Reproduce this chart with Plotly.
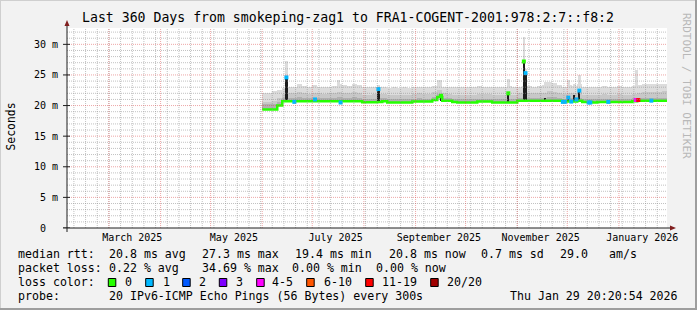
import plotly.graph_objects as go
import pandas as pd

# ---------------- data ----------------
range_start = "2025-02-03 20:20:54"
range_end = "2026-01-29 20:20:54"

bin_start = pd.date_range("2025-06-01", periods=81, freq="3D")

median_ms = [19.35, 19.35, 19.35, 20.0, 20.7, 20.7, 20.7, 20.7, 20.7, 20.7,
             20.7, 20.7, 20.7, 20.7, 20.7, 20.7, 20.7, 20.7, 20.7, 20.7,
             20.55, 20.55, 20.55, 20.6, 20.7, 20.5, 20.5, 20.5, 20.5, 20.5,
             20.65, 20.65, 20.65, 20.65, 20.9, 21.4, 20.8, 20.8, 20.6, 20.5,
             20.5, 20.5, 20.5, 20.65, 20.65, 20.65, 20.5, 20.5, 20.5, 20.5,
             20.5, 20.8, 20.8, 20.8, 20.8, 20.8, 20.8, 20.8, 20.8, 20.8,
             20.65, 20.65, 20.65, 20.8, 20.6, 20.6, 20.5, 20.6, 20.6, 20.6,
             20.6, 20.6, 20.6, 20.6, 20.7, 20.8, 20.8, 20.8, 20.8, 20.8, 20.8]

smoke_top = [22.0, 22.0, 22.3, 22.5, 22.8, 23.1, 23.1, 23.6, 23.2, 23.0,
             23.3, 23.1, 23.0, 23.1, 23.2, 23.6, 23.3, 23.2, 23.5, 23.4,
             23.0, 23.0, 23.1, 23.0, 23.0, 22.9, 23.0, 22.9, 23.0, 22.9,
             23.0, 23.1, 23.0, 23.0, 23.2, 24.2, 23.1, 23.0, 23.0, 23.1,
             23.1, 23.0, 23.1, 23.2, 23.1, 23.1, 23.0, 23.1, 23.0, 23.2,
             23.1, 23.1, 23.2, 23.2, 23.1, 23.2, 23.3, 23.8, 23.7, 23.3,
             23.1, 23.4, 23.2, 23.6, 23.1, 23.1, 23.0, 23.1, 23.2, 23.0,
             23.1, 23.2, 23.1, 23.0, 23.2, 23.4, 23.5, 23.5, 23.6, 23.5, 23.6]

smoke_mid = [20.6, 20.6, 20.7, 21.3, 21.9, 22.0, 22.1, 22.2, 22.0, 21.9,
             22.1, 22.0, 21.9, 22.0, 22.1, 22.2, 22.1, 22.0, 22.2, 22.1,
             21.8, 21.8, 21.9, 21.9, 21.9, 21.7, 21.8, 21.7, 21.8, 21.7,
             21.9, 22.0, 21.9, 21.9, 22.2, 22.6, 22.0, 21.9, 21.8, 21.7,
             21.8, 21.7, 21.8, 21.9, 21.9, 21.9, 21.7, 21.8, 21.7, 21.8,
             21.7, 22.0, 22.0, 22.1, 22.0, 22.0, 22.1, 22.3, 22.2, 22.1,
             21.9, 22.0, 22.0, 22.2, 21.8, 21.8, 21.7, 21.8, 21.9, 21.8,
             21.8, 21.9, 21.8, 21.8, 21.9, 22.1, 22.2, 22.2, 22.2, 22.2, 22.3]

smoke_dark = [20.2, 20.3, 20.3, 20.6, 21.2, 21.3, 21.3, 21.4, 21.3, 21.2,
              21.3, 21.3, 21.2, 21.3, 21.3, 21.4, 21.3, 21.3, 21.4, 21.3,
              21.1, 21.1, 21.1, 21.2, 21.2, 21.0, 21.0, 21.0, 21.0, 21.0,
              21.1, 21.2, 21.1, 21.1, 21.4, 21.9, 21.3, 21.2, 21.1, 21.0,
              21.0, 21.0, 21.0, 21.1, 21.1, 21.1, 21.0, 21.0, 21.0, 21.0,
              21.0, 21.3, 21.3, 21.3, 21.3, 21.3, 21.3, 21.4, 21.4, 21.3,
              21.1, 21.2, 21.2, 21.3, 21.1, 21.1, 21.0, 21.1, 21.1, 21.1,
              21.1, 21.1, 21.1, 21.1, 21.2, 21.3, 21.3, 21.3, 21.3, 21.3, 21.3]

# narrow smoke peaks
smoke_spike_time = ["2025-06-15 12:00", "2025-07-16 17:00", "2025-08-09 17:00",
                    "2025-09-15 08:00", "2025-10-26 15:00", "2025-11-04 23:00",
                    "2025-11-05 23:00", "2025-11-17 20:00", "2025-12-01 15:00",
                    "2025-12-05 06:00", "2025-12-08 06:00", "2026-01-11 11:00"]
smoke_spike_top = [27.2, 24.2, 23.4, 24.2, 24.3, 31.2, 26.0, 23.8, 24.2, 23.6, 25.0, 25.8]
smoke_spike_base = [20.7, 20.7, 20.6, 20.9, 20.5, 20.8, 20.8, 20.8, 20.65, 20.65, 20.8, 20.8]

# dark median spikes
med_spike_time = ["2025-06-15 12:00", "2025-07-02 15:00", "2025-08-09 17:00",
                  "2025-09-16 06:00", "2025-10-26 15:00", "2025-11-04 23:00",
                  "2025-11-05 23:00", "2025-11-17 20:00", "2025-12-01 15:00",
                  "2025-12-05 06:00", "2025-12-08 06:00"]
med_spike_top = [24.6, 21.0, 22.7, 21.6, 22.0, 27.2, 25.3, 21.2, 21.3, 21.7, 22.45]
med_spike_base = [20.7, 20.7, 20.6, 20.8, 20.5, 20.8, 20.8, 20.8, 20.65, 20.65, 20.8]

# loss-coloured median points
loss_time = ["2025-06-15 12:00", "2025-06-20 06:00", "2025-07-02 15:00", "2025-07-18 00:00",
             "2025-08-09 17:00", "2025-09-16 06:00", "2025-10-26 15:00", "2025-11-04 23:00",
             "2025-11-05 23:00", "2025-11-28 08:00", "2025-11-29 12:00", "2025-12-01 15:00",
             "2025-12-03 10:00", "2025-12-06 12:00", "2025-12-08 06:00", "2025-12-13 20:00",
             "2025-12-14 20:00", "2025-12-25 15:00", "2026-01-11 03:00", "2026-01-12 15:00",
             "2026-01-20 11:00"]
loss_value = [24.6, 20.6, 21.0, 20.5, 22.7, 21.6, 22.0, 27.2, 25.3, 20.6, 20.6, 21.3,
              20.65, 21.0, 22.45, 20.5, 20.5, 20.6, 20.9, 20.9, 20.8]
loss_class = ["1", "1", "1", "1", "1", "0", "0", "0", "1", "1", "1", "1",
              "1", "1", "1", "1", "1", "1", "4-5", "11-19", "1"]

loss_labels = ["0", "1", "2", "3", "4-5", "6-10", "11-19", "20/20"]
loss_colors = ["#26ff00", "#00b8ff", "#0059ff", "#7e00ff", "#ff00ff", "#ff5500", "#ff0000", "#a10000"]

y_tick_vals = [0, 5, 10, 15, 20, 25, 30]
y_tick_text = ["0\u00a0\u00a0", "5 m", "10 m", "15 m", "20 m", "25 m", "30 m"]
x_label_dates = ["2025-03-15", "2025-05-15", "2025-07-15", "2025-09-15", "2025-11-15", "2026-01-15"]
x_label_text = ["March 2025", "May 2025", "July 2025", "September 2025", "November 2025", "January 2026"]

title_text = "Last 360 Days from smokeping-zag1 to FRA1-COGENT-2001:978:2:7::f8:2"
legend_rows = [
    (254.3, [("median rtt:", 16), ("20.8 ms avg", 107.3), ("27.3 ms max", 200), ("19.4 ms min", 293.3),
             ("20.8 ms now", 386.7), ("0.7 ms sd", 479.3), ("29.0", 558.3), ("am/s", 607.3)]),
    (268.0, [("packet loss:", 16), ("0.22 % avg", 107.3), ("34.69 % max", 200), ("0.00 % min", 289.5),
             ("0.00 % now", 374.0)]),
    (281.7, [("loss color:", 16)]),
    (295.7, [("probe:", 16), ("20 IPv6-ICMP Echo Pings (56 Bytes) every 300s", 107.3)]),
]
loss_swatch_x = [108.3, 145.7, 182.7, 219.3, 256.7, 306.7, 365.7, 430.7]
loss_label_x = [123.3, 161, 197.3, 234, 270, 321.7, 380, 445]
stamp_text = "Thu Jan 29 20:20:54 2026"

# ---------------- geometry helpers ----------------
W, H = 697, 310
L, T, PW, PH = 67, 28, 600, 200
YMAX = 32.67
MONO = "DejaVu Sans Mono"


def px(x):
    return (x - L) / PW


def py(y):
    return (T + PH - y) / PH


DAY = 86400000
color_of = dict(zip(loss_labels, loss_colors))

fig = go.Figure()

# smoke bands
bands = [(smoke_top, "#dcdcdc"), (smoke_mid, "#c8c8c8"), (smoke_dark, "#b0b0b0")]
for i, (vals, col) in enumerate(bands):
    fig.add_trace(go.Bar(x=bin_start, base=median_ms, y=[v - m for v, m in zip(vals, median_ms)],
                         width=3 * DAY, offset=0, marker=dict(color=col, line=dict(width=0)),
                         hoverinfo="skip", showlegend=False))
    if i == 0:
        fig.add_trace(go.Bar(x=pd.to_datetime(smoke_spike_time), base=smoke_spike_base,
                             y=[t - b for t, b in zip(smoke_spike_top, smoke_spike_base)],
                             width=1.5 * DAY, marker=dict(color=col, line=dict(width=0)),
                             hoverinfo="skip", showlegend=False))

# dark spikes
fig.add_trace(go.Bar(x=pd.to_datetime(med_spike_time), base=med_spike_base,
                     y=[t - b for t, b in zip(med_spike_top, med_spike_base)],
                     width=1.3 * DAY, marker=dict(color="#1c1c1c", line=dict(width=0)),
                     hoverinfo="skip", showlegend=False))

# median line
fig.add_trace(go.Scatter(x=list(bin_start) + [pd.Timestamp(range_end)], y=median_ms + [median_ms[-1]],
                         mode="lines", line=dict(shape="hv", color=color_of["0"], width=2.5),
                         hoverinfo="skip", showlegend=False))

# loss markers
fig.add_trace(go.Scatter(x=pd.to_datetime(loss_time), y=loss_value, mode="markers",
                         marker=dict(symbol="square", size=4, color=[color_of[c] for c in loss_class],
                                     line=dict(width=0)),
                         hoverinfo="skip", showlegend=False))

shapes = []
# grid
minor_dash = "1px,1px"
weeks = pd.date_range("2025-02-08", range_end, freq="7D")
months = pd.date_range("2025-03-01", range_end, freq="MS")
for d in weeks:
    shapes.append(dict(type="line", xref="x", yref="paper", x0=d, x1=d, y0=0, y1=1, layer="above",
                       line=dict(color="rgba(143,143,143,0.55)", width=1, dash=minor_dash)))
for v in range(1, 33):
    if v % 5:
        shapes.append(dict(type="line", xref="paper", yref="y", x0=0, x1=1, y0=v, y1=v, layer="above",
                           line=dict(color="rgba(143,143,143,0.55)", width=1, dash=minor_dash)))
for d in months:
    shapes.append(dict(type="line", xref="x", yref="paper", x0=d, x1=d, y0=0, y1=1, layer="above",
                       line=dict(color="rgba(222,79,79,0.5)", width=1, dash=minor_dash)))
for v in range(5, 33, 5):
    shapes.append(dict(type="line", xref="paper", yref="y", x0=0, x1=1, y0=v, y1=v, layer="above",
                       line=dict(color="rgba(222,79,79,0.5)", width=1, dash=minor_dash)))

# axes
axis_col = "#1f1f1f"
arrow_col = "#801f1f"
shapes.append(dict(type="line", xref="paper", yref="paper", x0=px(63), x1=px(671), y0=0, y1=0,
                   line=dict(color=axis_col, width=1), layer="above"))
shapes.append(dict(type="line", xref="paper", yref="paper", x0=0, x1=0, y0=py(232), y1=py(24),
                   line=dict(color=axis_col, width=1), layer="above"))
shapes.append(dict(type="path", xref="paper", yref="paper",
                   path=f"M {px(670)},{py(225.5)} L {px(676)},{py(228)} L {px(670)},{py(230.5)} Z",
                   fillcolor=arrow_col, line=dict(width=0), layer="above"))
shapes.append(dict(type="path", xref="paper", yref="paper",
                   path=f"M {px(64.5)},{py(26)} L {px(67)},{py(20)} L {px(69.5)},{py(26)} Z",
                   fillcolor=arrow_col, line=dict(width=0), layer="above"))
for v in y_tick_vals:
    shapes.append(dict(type="line", xref="paper", yref="y", x0=px(63), x1=px(70), y0=v, y1=v,
                       line=dict(color=axis_col, width=1), layer="above"))

# legend swatches
for sx, col in zip(loss_swatch_x, loss_colors):
    shapes.append(dict(type="rect", xref="paper", yref="paper", x0=px(sx), x1=px(sx + 7.5),
                       y0=py(286.5), y1=py(278.5), fillcolor=col, line=dict(color="black", width=1)))

# frame
shapes.append(dict(type="line", xref="paper", yref="paper", x0=px(0), x1=px(W), y0=py(0.5), y1=py(0.5),
                   line=dict(color="#cfcfcf", width=1)))
shapes.append(dict(type="line", xref="paper", yref="paper", x0=px(0.5), x1=px(0.5), y0=py(0), y1=py(H),
                   line=dict(color="#cfcfcf", width=1)))
shapes.append(dict(type="line", xref="paper", yref="paper", x0=px(0), x1=px(W), y0=py(H - 1), y1=py(H - 1),
                   line=dict(color="#9e9e9e", width=2)))
shapes.append(dict(type="line", xref="paper", yref="paper", x0=px(W - 1), x1=px(W - 1), y0=py(0), y1=py(H),
                   line=dict(color="#9e9e9e", width=2)))

annotations = []
annotations.append(dict(text=title_text, xref="paper", yref="paper", x=px(347.5), y=py(18),
                        xanchor="center", yanchor="middle", showarrow=False,
                        font=dict(family=MONO, size=13.2, color="black")))
annotations.append(dict(text="Seconds", xref="paper", yref="paper", x=px(10.5), y=py(127),
                        xanchor="center", yanchor="middle", textangle=-90, showarrow=False,
                        font=dict(family=MONO, size=11.4, color="black")))
annotations.append(dict(text="RRDTOOL / TOBI OETIKER", xref="paper", yref="paper", x=px(687), y=py(86),
                        xanchor="center", yanchor="middle", textangle=90, showarrow=False,
                        font=dict(family=MONO, size=11, color="#b8b8b8")))
for yrow, items in legend_rows:
    for txt, xpos in items:
        annotations.append(dict(text=txt, xref="paper", yref="paper", x=px(xpos), y=py(yrow),
                                xanchor="left", yanchor="middle", showarrow=False,
                                font=dict(family=MONO, size=11.6, color="black")))
for lbl, xpos in zip(loss_labels, loss_label_x):
    annotations.append(dict(text=lbl, xref="paper", yref="paper", x=px(xpos), y=py(281.7),
                            xanchor="left", yanchor="middle", showarrow=False,
                            font=dict(family=MONO, size=11.6, color="black")))
annotations.append(dict(text=stamp_text, xref="paper", yref="paper", x=px(680), y=py(295.7),
                        xanchor="right", yanchor="middle", showarrow=False,
                        font=dict(family=MONO, size=11.6, color="black")))

fig.update_layout(
    width=W, height=H, margin=dict(l=L, r=W - L - PW, t=T, b=H - T - PH, pad=0),
    paper_bgcolor="#f2f2f2", plot_bgcolor="#ffffff",
    barmode="overlay", bargap=0, showlegend=False,
    shapes=shapes, annotations=annotations,
    xaxis=dict(type="date", range=[range_start, range_end], showgrid=False, zeroline=False,
               showline=False, ticks="", tickvals=x_label_dates, ticktext=x_label_text,
               tickfont=dict(family=MONO, size=10, color="black"), ticklabelstandoff=2, fixedrange=True),
    yaxis=dict(range=[0, YMAX], showgrid=False, zeroline=False, showline=False, ticks="",
               tickvals=y_tick_vals, ticktext=y_tick_text,
               tickfont=dict(family=MONO, size=10, color="black"), ticklabelstandoff=8, fixedrange=True),
)

fig.write_html("out.html")
